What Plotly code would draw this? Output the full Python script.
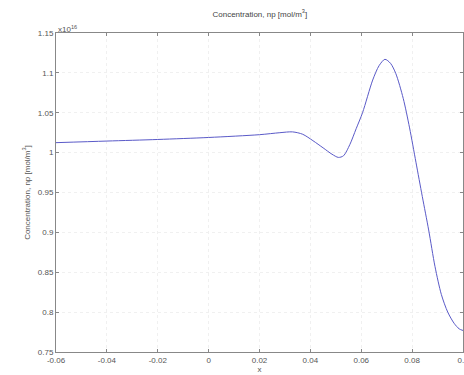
import plotly.graph_objects as go

x_vals = [-0.06, -0.04, -0.02, 0.0, 0.02, 0.028, 0.033, 0.037, 0.041, 0.045, 0.0485, 0.051, 0.053,
          0.0555, 0.058, 0.0605, 0.0645, 0.067, 0.0693, 0.0715, 0.0736, 0.0765, 0.079, 0.0815,
          0.084, 0.0865, 0.089, 0.0915, 0.094, 0.0965, 0.0985, 0.1]
conc_e16 = [1.0125, 1.0145, 1.0165, 1.019, 1.0225, 1.025, 1.026, 1.023, 1.015, 1.006, 0.998, 0.994, 0.996,
            1.010, 1.030, 1.050, 1.091, 1.109, 1.117, 1.112, 1.099, 1.068, 1.031, 0.988,
            0.945, 0.903, 0.857, 0.822, 0.800, 0.786, 0.779, 0.777]

x_ticks = [-0.06, -0.04, -0.02, 0, 0.02, 0.04, 0.06, 0.08, 0.1]
x_ticktext = ["-0.06", "-0.04", "-0.02", "0", "0.02", "0.04", "0.06", "0.08", "0.1"]
y_ticks = [0.75, 0.8, 0.85, 0.9, 0.95, 1.0, 1.05, 1.1, 1.15]
y_ticktext = ["0.75", "0.8", "0.85", "0.9", "0.95", "1", "1.05", "1.1", "1.15"]

title_text = "Concentration, np [mol/m<sup>3</sup>]"

fig = go.Figure()
fig.add_trace(go.Scatter(x=x_vals, y=conc_e16, mode="lines",
                         line=dict(color="#5a5ac8", width=1, shape="spline", smoothing=0.8),
                         showlegend=False))

font = dict(family="Liberation Sans, Arial, sans-serif", size=8, color="#555555")
axis_common = dict(showline=True, linecolor="#888888", linewidth=1, mirror="ticks",
                   ticks="inside", ticklen=3, tickcolor="#888888",
                   showgrid=True, gridcolor="#f0f0f0", griddash="dot", gridwidth=1,
                   zeroline=False, tickfont=font, automargin=False)

fig.update_layout(
    width=464, height=375,
    margin=dict(l=56, r=1, t=33, b=23),
    paper_bgcolor="white", plot_bgcolor="white",
    font=font,
    title=dict(text=title_text, x=0.56, xanchor="center", y=0.963, yanchor="middle",
               font=dict(family="Liberation Sans, Arial, sans-serif", size=8, color="#444444")),
    xaxis=dict(range=[-0.06, 0.1], tickvals=x_ticks, ticktext=x_ticktext,
               ticklabeloverflow="allow",
               title=dict(text="x", standoff=1, font=font), **axis_common),
    yaxis=dict(range=[0.75, 1.15], tickvals=y_ticks, ticktext=y_ticktext,
               title=dict(text=title_text, standoff=6, font=font), **axis_common),
    annotations=[dict(text="x10<sup>16</sup>", xref="paper", yref="paper", x=0.0, y=1.0,
                      xanchor="left", yanchor="bottom", showarrow=False,
                      font=dict(family="Liberation Sans, Arial, sans-serif", size=8, color="#555555"),
                      yshift=-3)],
)

fig.write_html("out.html", config={"displayModeBar": False},
               post_script="document.body.style.margin='0';document.body.style.overflow='hidden';")
